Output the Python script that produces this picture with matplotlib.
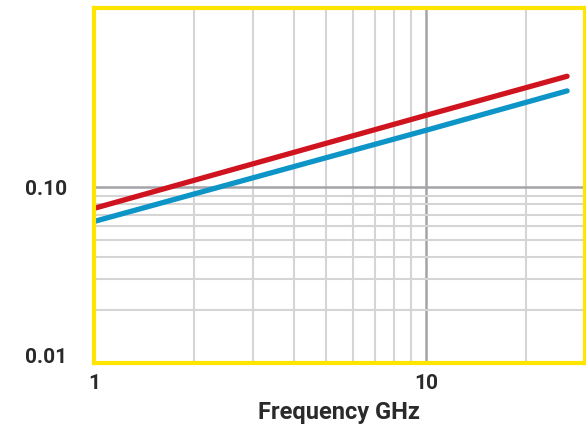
import matplotlib
matplotlib.use("Agg")
import matplotlib.pyplot as plt
from matplotlib.ticker import FixedLocator, NullFormatter

plt.rcParams['font.family'] = ['Roboto', 'DejaVu Sans']

# datos (log-log, recta)
freq = [1, 10, 26.5]
rojo = [0.076, 0.258, 0.43]
azul = [0.064, 0.212, 0.355]

xticks = [1, 10]
xlabels = ["1", "10"]
yticks = [0.01, 0.1]
ylabels = ["0.01", "0.10"]
xminor = [2, 3, 4, 5, 6, 7, 8, 9, 20]
yminor = [0.02, 0.03, 0.04, 0.05, 0.06, 0.07, 0.08, 0.09]

fig = plt.figure(figsize=(5.86, 4.26), dpi=100)
ax = fig.add_axes([94/586, (426-363)/426, (585-94)/586, (363-7.5)/426])

ax.set_xscale("log")
ax.set_yscale("log")
ax.set_xlim(1, 30)
ax.set_ylim(0.01, 1.06)

ax.plot(freq, rojo, color="#d0141f", lw=3.8, solid_capstyle="round", zorder=4)
ax.plot(freq, azul, color="#0e95c8", lw=3.8, solid_capstyle="round", zorder=4)

ax.xaxis.set_major_locator(FixedLocator(xticks))
ax.yaxis.set_major_locator(FixedLocator(yticks))
ax.xaxis.set_minor_locator(FixedLocator(xminor))
ax.yaxis.set_minor_locator(FixedLocator(yminor))
ax.xaxis.set_minor_formatter(NullFormatter())
ax.yaxis.set_minor_formatter(NullFormatter())
ax.set_xticklabels(xlabels)
ax.set_yticklabels(ylabels)

ax.grid(which="major", color="#a4a4a8", lw=1.8)
ax.grid(which="minor", color="#d5d5d5", lw=1.5)
ax.set_axisbelow(True)

ax.tick_params(which="both", length=0, labelsize=15, labelcolor="#2a2a2a")
ax.tick_params(axis="x", pad=8)
ax.tick_params(axis="y", pad=19)
for t in ax.get_yticklabels() + ax.get_xticklabels():
    t.set_fontweight("semibold")
ax.get_yticklabels()[0].set_va("baseline")

for s in ax.spines.values():
    s.set_color("#ffe500")
    s.set_linewidth(3)
    s.set_zorder(5)

ax.set_xlabel("Frequency GHz", fontsize=17, fontweight="semibold", color="#2a2a2a", labelpad=6)

fig.savefig("out.png", dpi=100)
